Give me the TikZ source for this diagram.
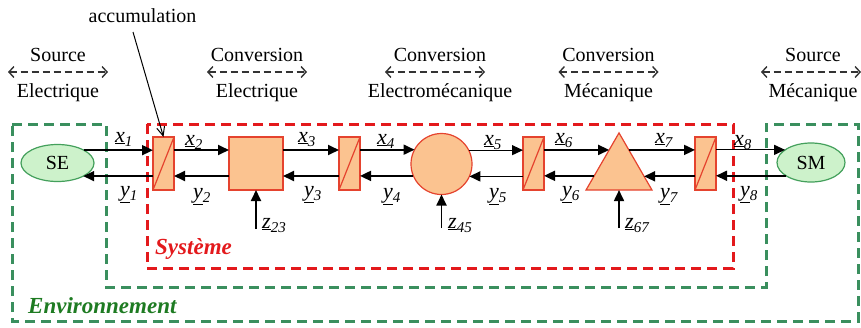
\documentclass[tikz,border=0pt]{standalone}
\usepackage{fontspec}
\setmainfont{Liberation Serif}
\usetikzlibrary{arrows.meta,shapes.geometric,calc}
\definecolor{envgreen}{HTML}{3A8F5E}
\definecolor{envtext}{HTML}{1E7B22}
\definecolor{sysred}{HTML}{E3191C}
\definecolor{boxfill}{HTML}{FBC390}
\definecolor{boxdraw}{HTML}{E5432E}
\definecolor{srcfill}{HTML}{CDF2CB}
\definecolor{srcdraw}{HTML}{44A05C}
\newcommand{\vlab}[2]{\textit{\underline{#1}\raisebox{-4pt}{\fontsize{15}{15}\selectfont #2}}}
\begin{document}
\begin{tikzpicture}[x=1pt,y=-1pt,
  every node/.style={font=\fontsize{20}{24}\selectfont},
  envbox/.style={draw=envgreen, line width=3pt, dash pattern=on 10pt off 6pt},
  sysbox/.style={draw=sysred, line width=3pt, dash pattern=on 10pt off 6pt},
  orange/.style={draw=boxdraw, fill=boxfill, line width=1.2pt, inner sep=0pt, outer sep=0pt},
  accbox/.style={orange, rectangle, minimum width=21pt, minimum height=53pt},
  src/.style={ellipse, draw=srcdraw, fill=srcfill, line width=1.2pt, inner sep=0pt, outer sep=0pt},
  flow/.style={line width=1.8pt, -{Triangle[length=11pt,width=10pt]}},
  thinflow/.style={flow, line width=1.1pt},
  dbl/.style={draw=black!80, line width=1.4pt, dash pattern=on 7pt off 4pt,
    {Straight Barb[length=5pt,width=11pt]}-{Straight Barb[length=5pt,width=11pt]}},
  note/.style={line width=1pt, -{Straight Barb[length=9pt,width=8pt]}},
  lbl/.style={font=\fontsize{22}{24}\selectfont, inner sep=0pt},
  region/.style={font=\fontsize{23}{26}\selectfont\bfseries\itshape, inner sep=0pt}
]
\useasboundingbox (0,0) rectangle (861,327);

% environment and system frames
\draw[envbox] (12,124) -- (106,124) -- (106,287) -- (766,287) -- (766,124)
  -- (858,124) -- (858,321) -- (12,321) -- cycle;
\draw[sysbox] (147,124) rectangle (733,268);

% top headings
\node[anchor=base] (h1a) at (58,61) {Source};
\node[anchor=base] (h1b) at (58,97) {Electrique};
\coordinate (d1) at (58,72);
\node[anchor=base] (h2a) at (257,61) {Conversion};
\node[anchor=base] (h2b) at (257,97) {Electrique};
\coordinate (d2) at (257,72);
\node[anchor=base] (h3a) at (440,61) {Conversion};
\node[anchor=base] (h3b) at (440,97) {Electromécanique};
\coordinate (d3) at (435,72);
\node[anchor=base] (h4a) at (608.5,61) {Conversion};
\node[anchor=base] (h4b) at (608.5,97) {Mécanique};
\coordinate (d4) at (608.5,72);
\node[anchor=base] (h5a) at (813,61) {Source};
\node[anchor=base] (h5b) at (813,97) {Mécanique};
\coordinate (d5) at (811,72);
\foreach \d in {d1,d2,d3,d4,d5}
  \draw[dbl] ([xshift=-50pt]\d) -- ([xshift=50pt]\d);

% elements
\node[src, minimum width=73pt, minimum height=37pt] (SE) at (57.5,163) {SE};
\node[accbox] (b1) at (163.5,163.5) {};
\node[orange, rectangle, minimum width=54pt, minimum height=53pt] (sq) at (256,163.5) {};
\node[accbox] (b2) at (349.5,163.5) {};
\node[orange, circle, minimum size=61pt] (ci) at (441.5,164) {};
\node[accbox] (b3) at (533.5,163.5) {};
\node[orange, regular polygon, regular polygon sides=3, minimum size=76.2pt] (tr) at (619,171) {};
\node[accbox] (b4) at (705.5,163.5) {};
\node[src, minimum width=68pt, minimum height=39pt] (SM) at (811,162.5) {SM};
\foreach \b in {b1,b2,b3,b4}
  \draw[boxdraw, line width=1.2pt] (\b.south west) -- (\b.north east);

\coordinate (rx) at (0,150);
\coordinate (ry) at (0,176);

% flows
\draw[flow] (SE.26.6) -- (SE.26.6 -| b1.west);
\draw[flow] (b1.west |- SE.333.4) -- (SE.333.4);
\draw[flow] (b1.east |- rx) -- (sq.west |- rx);
\draw[flow] (sq.west |- ry) -- (b1.east |- ry);
\draw[flow] (sq.east |- rx) -- (b2.west |- rx);
\draw[flow] (b2.west |- ry) -- (sq.east |- ry);
\draw[flow] (b2.east |- ci.152.7) -- (ci.152.7);
\draw[flow] (ci.203.2) -- (ci.203.2 -| b2.east);
\draw[thinflow] (ci.27.3) -- (ci.27.3 -| b3.west);
\draw[flow] (b3.west |- ci.336.8) -- (ci.336.8);
\draw[flow] (b3.east |- tr.115) -- (tr.115);
\draw[flow] (tr.191.4) -- (tr.191.4 -| b3.east);
\draw[flow] (tr.65) -- (tr.65 -| b4.west);
\draw[flow] (b4.west |- tr.348.6) -- (tr.348.6);
\draw[thinflow] (b4.east |- SM.154.4) -- (SM.154.4);
\draw[flow] (SM.208.9) -- (SM.208.9 -| b4.east);

% disturbances
\coordinate (z23s) at (256,229);
\coordinate (z45s) at (441.5,228);
\coordinate (z67s) at (619,228);
\draw[flow] (z23s) -- (sq.south);
\draw[flow] (z45s) -- (ci.south);
\draw[flow] (z67s) -- (tr.south);

% labels
\node[lbl, anchor=base west] (lx1) at (115,142) {\vlab{x}{1}};
\node[lbl, anchor=base west] (lx2) at (185,145) {\vlab{x}{2}};
\node[lbl, anchor=base west] (lx3) at (298,142) {\vlab{x}{3}};
\node[lbl, anchor=base west] (lx4) at (377,144) {\vlab{x}{4}};
\node[lbl, anchor=base west] (lx5) at (484,145) {\vlab{x}{5}};
\node[lbl, anchor=base west] (lx6) at (555,143) {\vlab{x}{6}};
\node[lbl, anchor=base west] (lx7) at (655,143) {\vlab{x}{7}};
\node[lbl, anchor=base west] (lx8) at (734,145) {\vlab{x}{8}};
\node[lbl, anchor=base west] (ly1) at (120,196) {\vlab{y}{1}};
\node[lbl, anchor=base west] (ly2) at (193,198) {\vlab{y}{2}};
\node[lbl, anchor=base west] (ly3) at (304,196) {\vlab{y}{3}};
\node[lbl, anchor=base west] (ly4) at (383,198) {\vlab{y}{4}};
\node[lbl, anchor=base west] (ly5) at (489,198) {\vlab{y}{5}};
\node[lbl, anchor=base west] (ly6) at (562,196) {\vlab{y}{6}};
\node[lbl, anchor=base west] (ly7) at (660,198) {\vlab{y}{7}};
\node[lbl, anchor=base west] (ly8) at (740,196) {\vlab{y}{8}};
\node[lbl, anchor=base west] (lz23) at (262,228) {\vlab{z}{23}};
\node[lbl, anchor=base west] (lz45) at (448,228) {\vlab{z}{45}};
\node[lbl, anchor=base west] (lz67) at (625,228) {\vlab{z}{67}};

% accumulation note
\node[anchor=base] (acc) at (142.5,22) {accumulation};
\coordinate (accS) at (133,32);
\draw[note] (accS) -- (b1.north);

% region names
\node[region, text=sysred, anchor=base west] (sys) at (155,254) {Système};
\node[region, text=envtext, anchor=base west] (env) at (28,313) {Environnement};
\end{tikzpicture}
\end{document}
